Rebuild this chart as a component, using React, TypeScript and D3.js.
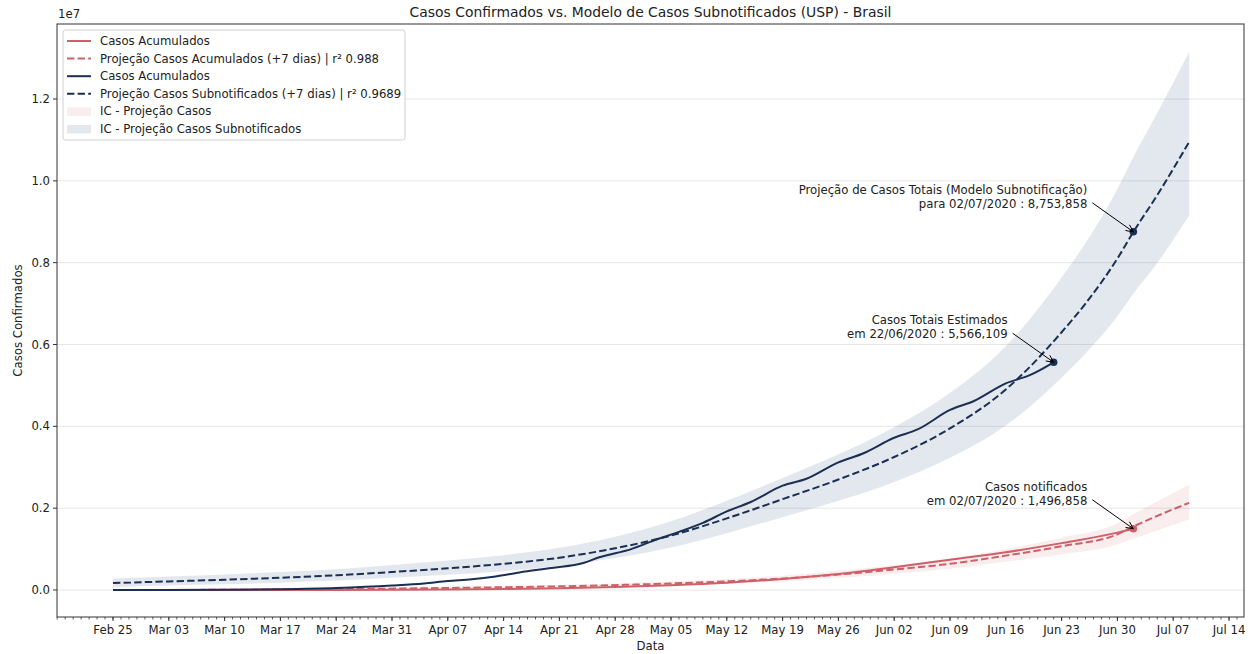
import React from "react";
import * as d3 from "d3";

// ---------- DATA ----------
const projDates = ["2020-02-25","2020-03-03","2020-03-10","2020-03-17","2020-03-24","2020-03-31","2020-04-07","2020-04-14","2020-04-21","2020-04-28","2020-05-05","2020-05-12","2020-05-19","2020-05-26","2020-06-02","2020-06-09","2020-06-16","2020-06-19","2020-06-23","2020-06-26","2020-06-30","2020-07-02","2020-07-05","2020-07-09"];
const subProj = [0.17,0.21,0.25,0.30,0.36,0.44,0.53,0.64,0.79,1.02,1.33,1.75,2.22,2.70,3.25,3.95,4.90,5.45,6.30,7.00,8.10,8.75,9.65,10.95];
const subUpper = [0.28,0.33,0.38,0.44,0.51,0.61,0.72,0.85,1.03,1.30,1.68,2.18,2.74,3.32,3.98,4.82,5.96,6.62,7.64,8.48,9.80,10.58,11.66,13.15];
const subLower = [0.07,0.11,0.14,0.18,0.23,0.30,0.37,0.46,0.59,0.78,1.04,1.39,1.78,2.18,2.64,3.23,4.02,4.48,5.19,5.78,6.69,7.24,7.99,9.15];

const casProjDates = ["2020-02-25","2020-03-10","2020-03-24","2020-04-07","2020-04-21","2020-05-05","2020-05-19","2020-06-02","2020-06-09","2020-06-16","2020-06-23","2020-06-30","2020-07-02","2020-07-09"];
const casProj = [0.0,0.005,0.02,0.05,0.09,0.16,0.28,0.50,0.64,0.84,1.07,1.36,1.55,2.13];
const casUpper = [0.03,0.04,0.06,0.09,0.13,0.21,0.35,0.61,0.77,1.00,1.28,1.63,1.85,2.57];
const casLower = [-0.02,-0.02,0.0,0.02,0.05,0.11,0.21,0.40,0.52,0.69,0.87,1.11,1.25,1.72];

const casDates = ["2020-02-26","2020-03-03","2020-03-10","2020-03-17","2020-03-24","2020-03-31","2020-04-07","2020-04-14","2020-04-21","2020-04-28","2020-05-05","2020-05-12","2020-05-19","2020-05-26","2020-06-02","2020-06-09","2020-06-16","2020-06-23","2020-06-30","2020-07-02"];
const casValues = [0.000001,0.000002,0.000034,0.000291,0.002201,0.005717,0.013717,0.025262,0.043079,0.071886,0.115455,0.177589,0.271628,0.391222,0.555383,0.739503,0.923189,1.145906,1.402041,1.496858];

const subDates = ["2020-02-25","2020-03-03","2020-03-10","2020-03-17","2020-03-24","2020-03-31","2020-04-04","2020-04-07","2020-04-10","2020-04-13","2020-04-16","2020-04-20","2020-04-24","2020-04-26","2020-04-30","2020-05-03","2020-05-06","2020-05-09","2020-05-12","2020-05-15","2020-05-19","2020-05-22","2020-05-26","2020-05-29","2020-06-02","2020-06-05","2020-06-09","2020-06-12","2020-06-16","2020-06-19","2020-06-22"];
const subValues = [0.0,0.0,0.005,0.02,0.05,0.11,0.16,0.22,0.26,0.33,0.43,0.54,0.66,0.80,1.00,1.22,1.42,1.64,1.92,2.15,2.55,2.72,3.12,3.33,3.72,3.93,4.40,4.62,5.05,5.25,5.566];

const yTicks = [0, 0.2e7, 0.4e7, 0.6e7, 0.8e7, 1.0e7, 1.2e7];
const legendLabels = [
  "Casos Acumulados",
  "Projeção Casos Acumulados (+7 dias) | r² 0.988",
  "Casos Acumulados",
  "Projeção Casos Subnotificados (+7 dias) | r² 0.9689",
  "IC - Projeção Casos",
  "IC - Projeção Casos Subnotificados",
];
const annotations = [
  { date: "2020-07-02", value: 8753858, lines: ["Projeção de Casos Totais (Modelo Subnotificação)", "para 02/07/2020 : 8,753,858"], series: "sub" },
  { date: "2020-06-22", value: 5566109, lines: ["Casos Totais Estimados", "em 22/06/2020 : 5,566,109"], series: "sub" },
  { date: "2020-07-02", value: 1496858, lines: ["Casos notificados", "em 02/07/2020 : 1,496,858"], series: "cas" },
];

// ---------- STYLE ----------
const RED = "#cf5f68";
const NAVY = "#1b2f52";
const BAND_BLUE = "#3a5a8c";
const FONT = "DejaVu Sans, sans-serif";
const FS = 11.7;

const W = 1251, H = 654;
const L = 57, R = 1244, T = 24, B = 617;

const pd = (s: string) => { const [y, m, d] = s.split("-").map(Number); return new Date(Date.UTC(y, m - 1, d)); };

export default function App() {
  const x = d3.scaleUtc().domain([pd("2020-02-25"), pd("2020-07-14")]).range([113, 1229]);
  const y = d3.scaleLinear().domain([0, 1.2e7]).range([590, 99]);
  const M = 1e6;

  const line = d3.line<[Date, number]>().x(d => x(d[0])).y(d => y(d[1] * M)).curve(d3.curveMonotoneX);
  const area = d3.area<[Date, number, number]>().x(d => x(d[0])).y0(d => y(d[2] * M)).y1(d => y(d[1] * M)).curve(d3.curveMonotoneX);

  const subProjPts = projDates.map((d, i) => [pd(d), subProj[i]] as [Date, number]);
  const subBand = projDates.map((d, i) => [pd(d), subUpper[i], subLower[i]] as [Date, number, number]);
  const casProjPts = casProjDates.map((d, i) => [pd(d), casProj[i]] as [Date, number]);
  const casBand = casProjDates.map((d, i) => [pd(d), casUpper[i], casLower[i]] as [Date, number, number]);
  const casPts = casDates.map((d, i) => [pd(d), casValues[i]] as [Date, number]);
  const subPts = subDates.map((d, i) => [pd(d), subValues[i]] as [Date, number]);

  const majorTicks = d3.utcDay.range(pd("2020-02-25"), d3.utcDay.offset(pd("2020-07-14"), 1), 7);
  const minorSet = d3.utcDay.range(d3.utcDay.ceil(x.invert(L)), x.invert(R));
  const fmt = d3.utcFormat("%b %d");

  const dash = "7.4,3.2";

  const legendRows = [
    { type: "line", color: RED, dash: undefined },
    { type: "line", color: RED, dash },
    { type: "line", color: NAVY, dash: undefined },
    { type: "line", color: NAVY, dash },
    { type: "patch", color: RED },
    { type: "patch", color: BAND_BLUE },
  ];

  return (
    <svg width={W} height={H} style={{ position: "absolute", left: 0, top: 0, background: "#fff" }} fontFamily={FONT}>
      <defs>
        <clipPath id="plot"><rect x={L} y={T} width={R - L} height={B - T} /></clipPath>
      </defs>
      <rect x={0} y={0} width={W} height={H} fill="#fff" />
      {yTicks.map(t => (
        <line key={t} x1={L} x2={R} y1={y(t)} y2={y(t)} stroke="#e6e6e6" strokeWidth={1} />
      ))}
      <g clipPath="url(#plot)">
        <path d={area(subBand) || ""} fill={BAND_BLUE} fillOpacity={0.14} />
        <path d={area(casBand) || ""} fill={RED} fillOpacity={0.11} />
        <path d={line(casPts) || ""} fill="none" stroke={RED} strokeWidth={2} />
        <path d={line(casProjPts) || ""} fill="none" stroke={RED} strokeWidth={2} strokeDasharray={dash} />
        <path d={line(subPts) || ""} fill="none" stroke={NAVY} strokeWidth={2} />
        <path d={line(subProjPts) || ""} fill="none" stroke={NAVY} strokeWidth={2} strokeDasharray={dash} />
      </g>
      {annotations.map((a, i) => {
        const px = x(pd(a.date)), py = y(a.value);
        const tx = px - 46, ty = py - 38;
        const ax = px - 41, ay = py - 29;
        const ang = Math.atan2(py - ay, px - ax);
        const hl = 8, hw = 0.45;
        const h1 = [px - hl * Math.cos(ang - hw), py - hl * Math.sin(ang - hw)];
        const h2 = [px - hl * Math.cos(ang + hw), py - hl * Math.sin(ang + hw)];
        const col = a.series === "sub" ? NAVY : RED;
        return (
          <g key={i}>
            <circle cx={px} cy={py} r={3.8} fill={col} />
            <line x1={ax} y1={ay} x2={px} y2={py} stroke="#000" strokeWidth={1} />
            <polyline points={`${h1[0]},${h1[1]} ${px},${py} ${h2[0]},${h2[1]}`} fill="none" stroke="#000" strokeWidth={1} />
            {a.lines.map((s, j) => (
              <text key={j} x={tx} y={ty + j * 14} textAnchor="end" fontSize={FS} fill="#222">{s}</text>
            ))}
          </g>
        );
      })}
      <rect x={L} y={T} width={R - L} height={B - T} fill="none" stroke="#333" strokeWidth={1} />
      {yTicks.map(t => (
        <g key={t}>
          <line x1={L - 4} x2={L} y1={y(t)} y2={y(t)} stroke="#333" />
          <text x={L - 7} y={y(t) + 4} textAnchor="end" fontSize={FS} fill="#222">{(t / 1e7).toFixed(1)}</text>
        </g>
      ))}
      <text x={L + 1} y={T - 6} fontSize={FS} fill="#222">1e7</text>
      <text transform={`translate(22,${(T + B) / 2}) rotate(-90)`} textAnchor="middle" fontSize={FS} fill="#222">Casos Confirmados</text>
      {minorSet.map((d, i) => (
        <line key={"m" + i} x1={x(d)} x2={x(d)} y1={B} y2={B + 2.5} stroke="#333" strokeWidth={0.8} />
      ))}
      {majorTicks.map((d, i) => (
        <g key={i}>
          <line x1={x(d)} x2={x(d)} y1={B} y2={B + 4} stroke="#333" />
          <text x={x(d)} y={B + 17} textAnchor="middle" fontSize={FS} fill="#222">{fmt(d)}</text>
        </g>
      ))}
      <text x={(L + R) / 2} y={650} textAnchor="middle" fontSize={FS} fill="#222">Data</text>
      <text x={(L + R) / 2} y={17} textAnchor="middle" fontSize={13.9} fill="#222">Casos Confirmados vs. Modelo de Casos Subnotificados (USP) - Brasil</text>
      <rect x={63} y={30} width={342} height={110} rx={2.5} fill="#fff" fillOpacity={0.85} stroke="#d0d0d0" />
      {legendRows.map((r, i) => {
        const cy = 41 + i * 17.6;
        return (
          <g key={i}>
            {r.type === "line" ? (
              <line x1={67} x2={91} y1={cy} y2={cy} stroke={r.color} strokeWidth={2} strokeDasharray={r.dash} />
            ) : (
              <rect x={67} y={cy - 4} width={24} height={8.5} fill={r.color} fillOpacity={r.color === RED ? 0.11 : 0.14} />
            )}
            <text x={100} y={cy + 4} fontSize={FS} fill="#222">{legendLabels[i]}</text>
          </g>
        );
      })}
    </svg>
  );
}
